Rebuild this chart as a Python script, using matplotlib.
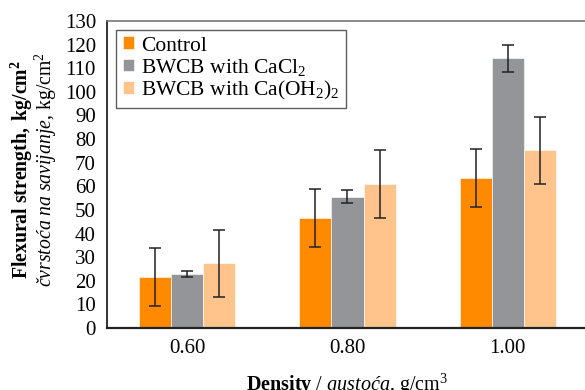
import numpy as np
import matplotlib.pyplot as plt

plt.rcParams['font.family'] = ['Liberation Serif', 'DejaVu Serif']
plt.rcParams['mathtext.fontset'] = 'custom'
plt.rcParams['mathtext.rm'] = 'Liberation Serif'
plt.rcParams['mathtext.it'] = 'Liberation Serif:italic'
plt.rcParams['mathtext.bf'] = 'Liberation Serif:bold'

# data
densities = ['0.60', '0.80', '1.00']
labels    = ['Control', r'BWCB with CaCl$_2$', r'BWCB with Ca(OH$_2$)$_2$']
control   = [21.5, 46.5, 63.5]
cacl2     = [23.0, 55.6, 114.2]
caoh2     = [27.5, 61.0, 75.3]
err_ctrl  = [12.2, 12.2, 12.2]
err_cacl2 = [1.2, 2.8, 5.8]
err_caoh2 = [14.2, 14.3, 14.2]

colors = ['#FF8A00', '#939598', '#FFC48C']

fig = plt.figure(figsize=(5.85, 3.9), dpi=100)
ax = fig.add_axes([0.183, 0.159, 0.822, 0.787])

x = np.arange(len(densities))
w = 0.2
series = [control, cacl2, caoh2]
errs   = [err_ctrl, err_cacl2, err_caoh2]
for i, (vals, e) in enumerate(zip(series, errs)):
    ax.bar(x + (i - 1) * w, vals, w, color=colors[i], label=labels[i],
           edgecolor='white', linewidth=0.4,
           yerr=e, capsize=4, error_kw=dict(ecolor='#222222', elinewidth=1.1, capthick=1.1))

ax.set_xlim(-0.5, 2.5)
ax.set_ylim(0, 130)
ax.set_yticks(np.arange(0, 131, 10))
ax.set_xticks(x)
ax.set_xticklabels(densities)
ax.tick_params(axis='both', length=0, labelsize=15, pad=8)
ax.tick_params(axis='y', pad=8)

for s in ['left', 'bottom']:
    ax.spines[s].set_color('#222222')
ax.spines['left'].set_linewidth(1.3)
ax.spines['bottom'].set_linewidth(1.6)
ax.spines['top'].set_color('#777777')
ax.spines['top'].set_linewidth(1.2)
ax.spines['right'].set_visible(False)

# two-line y label, placed by hand
fig.text(22 / 585, 1 - 170 / 390, '$\\mathbf{Flexural\\ strength,\\ kg/cm^2}$',
         rotation=90, ha='center', va='center', fontsize=14.2)
fig.text(46 / 585, 1 - 169 / 390, '$\\mathit{čvrstoća\\ na\\ savijanje}$, kg/cm$^2$',
         rotation=90, ha='center', va='center', fontsize=14.2)
ax.set_xlabel('$\\mathbf{Density}$ / $\\mathit{gustoća}$, g/cm$^3$',
              fontsize=14.5, labelpad=10)

leg = ax.legend(loc='upper left', bbox_to_anchor=(0.01, 0.985), fontsize=15.5,
                frameon=True, fancybox=False, edgecolor='#333333',
                handlelength=0.55, handleheight=0.55, handletextpad=0.3,
                labelspacing=0.05, borderpad=0.3, borderaxespad=0.2)
leg.get_frame().set_linewidth(1.0)

fig.savefig('out.png', dpi=100)
